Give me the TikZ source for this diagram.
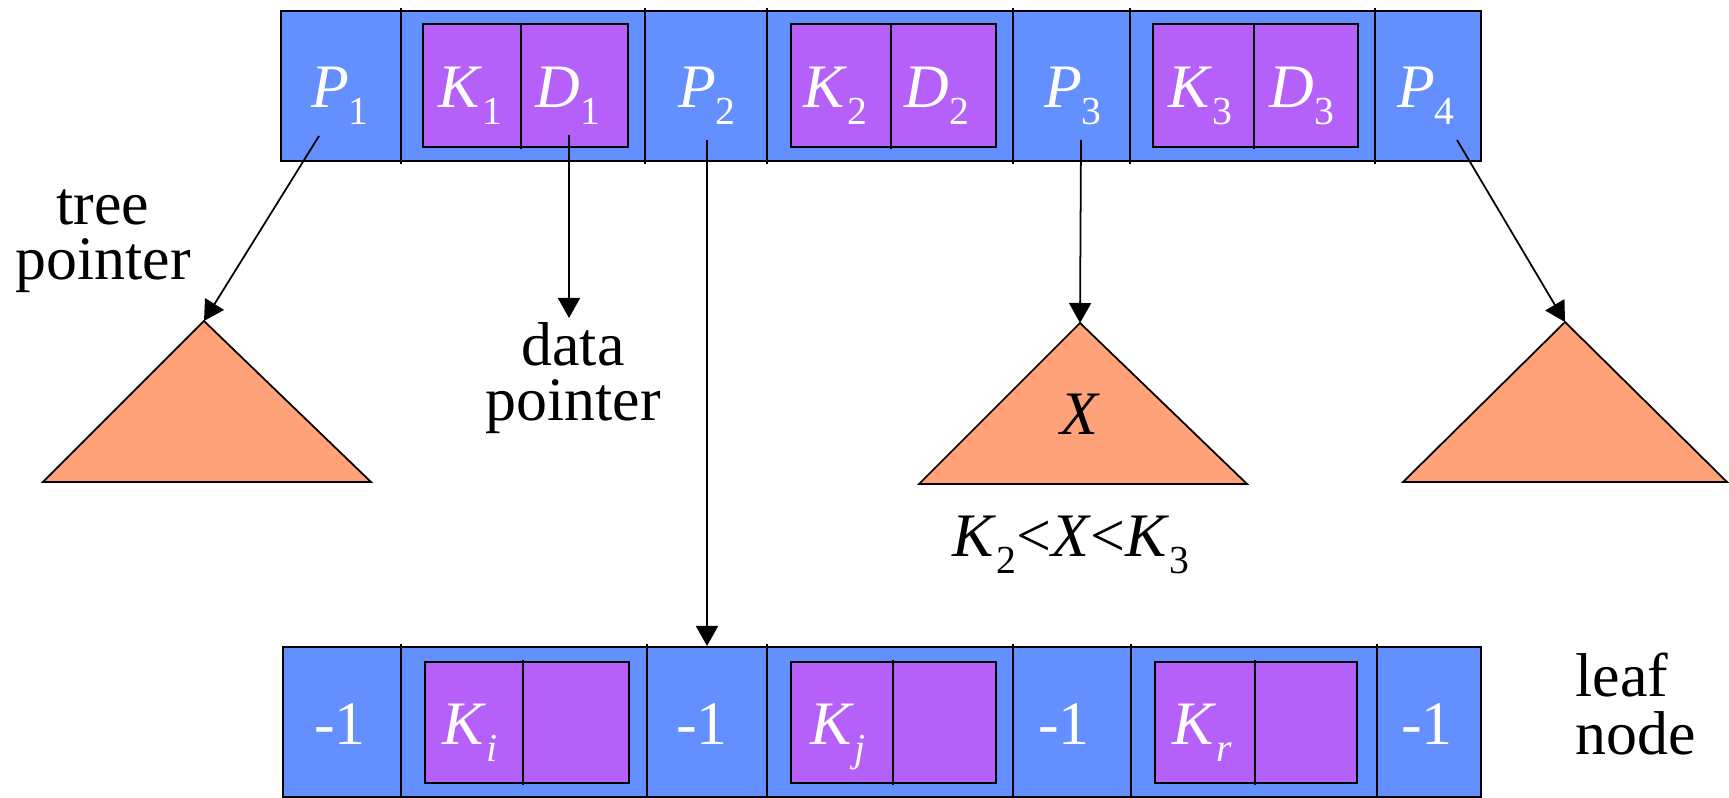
\documentclass[tikz,border=0pt]{standalone}
\usepackage{fontspec}
\setmainfont{Liberation Serif}
\usetikzlibrary{arrows.meta}

\definecolor{cellblue}{RGB}{100,143,255}
\definecolor{keypurple}{RGB}{182,96,250}
\definecolor{treeorange}{RGB}{255,162,122}

% lowered small index, as in P_1
\newcommand{\lowsub}[1]{\raisebox{-0.26em}{\fontsize{11.3}{12}\selectfont #1}}

\tikzset{
  cell/.style={draw, fill=cellblue, line width=0.5pt},
  keybox/.style={draw, fill=keypurple, line width=0.5pt},
  subtree/.style={draw, fill=treeorange, line width=0.5pt},
  lbl/.style={white, anchor=base, inner sep=0pt},
  note/.style={black, inner sep=0pt, font=\fontsize{17.6}{15.7}\selectfont},
  ptr/.style={line width=0.5pt, -{Triangle[length=0.2cm, width=0.22cm]}}
}

\begin{document}
\begin{tikzpicture}[x=1cm, y=-1cm, font=\fontsize{17.6}{21}\selectfont]
    \useasboundingbox (0,0) rectangle (17.29,7.98);

    % Internal node
    \draw[cell] (2.81,0.11) rectangle (14.81,1.61);
    \draw[line width=0.5pt] (4.01,0.08) -- (4.01,1.64);
    \draw[line width=0.5pt] (6.45,0.08) -- (6.45,1.64);
    \draw[line width=0.5pt] (7.67,0.08) -- (7.67,1.64);
    \draw[line width=0.5pt] (10.13,0.08) -- (10.13,1.64);
    \draw[line width=0.5pt] (11.30,0.08) -- (11.30,1.64);
    \draw[line width=0.5pt] (13.75,0.08) -- (13.75,1.64);
    % key/data pairs
    \draw[keybox] (4.23,0.24) rectangle (6.28,1.47);
    \draw[keybox] (7.91,0.24) rectangle (9.96,1.47);
    \draw[keybox] (11.53,0.24) rectangle (13.58,1.47);
    \draw[line width=0.5pt] (5.21,0.24) -- (5.21,1.49);
    \draw[line width=0.5pt] (8.91,0.24) -- (8.91,1.49);
    \draw[line width=0.5pt] (12.54,0.24) -- (12.54,1.49);

    \node[lbl] (p1) at (3.40,1.08) {\textit{P}\lowsub{1}};
    \node[lbl] (k1) at (4.70,1.08) {\textit{K}\lowsub{1}};
    \node[lbl] (d1) at (5.68,1.08) {\textit{D}\lowsub{1}};
    \node[lbl] (p2) at (7.07,1.08) {\textit{P}\lowsub{2}};
    \node[lbl] (k2) at (8.35,1.08) {\textit{K}\lowsub{2}};
    \node[lbl] (d2) at (9.37,1.08) {\textit{D}\lowsub{2}};
    \node[lbl] (p3) at (10.73,1.08) {\textit{P}\lowsub{3}};
    \node[lbl] (k3) at (12.00,1.08) {\textit{K}\lowsub{3}};
    \node[lbl] (d3) at (13.02,1.08) {\textit{D}\lowsub{3}};
    \node[lbl] (p4) at (14.26,1.08) {\textit{P}\lowsub{4}};

    % Leaf node
    \draw[cell] (2.83,6.47) rectangle (14.81,7.97);
    \draw[line width=0.5pt] (4.01,6.44) -- (4.01,7.98);
    \draw[line width=0.5pt] (6.47,6.44) -- (6.47,7.98);
    \draw[line width=0.5pt] (7.67,6.44) -- (7.67,7.98);
    \draw[line width=0.5pt] (10.13,6.44) -- (10.13,7.98);
    \draw[line width=0.5pt] (11.31,6.44) -- (11.31,7.98);
    \draw[line width=0.5pt] (13.77,6.44) -- (13.77,7.98);
    \draw[keybox] (4.25,6.62) rectangle (6.29,7.83);
    \draw[keybox] (7.91,6.62) rectangle (9.96,7.83);
    \draw[keybox] (11.55,6.62) rectangle (13.57,7.83);
    \draw[line width=0.5pt] (5.23,6.60) -- (5.23,7.85);
    \draw[line width=0.5pt] (8.93,6.60) -- (8.93,7.85);
    \draw[line width=0.5pt] (12.55,6.60) -- (12.55,7.85);

    \node[lbl] (m1) at (3.40,7.45) {-1};
    \node[lbl] (ki) at (4.70,7.45) {\textit{K}\lowsub{\textit{i}}};
    \node[lbl] (m2) at (7.02,7.45) {-1};
    \node[lbl] (kj) at (8.38,7.45) {\textit{K}\lowsub{\textit{j}}};
    \node[lbl] (m3) at (10.64,7.45) {-1};
    \node[lbl] (kr) at (12.02,7.45) {\textit{K}\lowsub{\textit{r}}};
    \node[lbl] (m4) at (14.27,7.45) {-1};

    % Subtrees
    \draw[subtree] (2.04,3.21) -- (3.71,4.82) -- (0.43,4.82) -- cycle;
    \draw[subtree] (10.80,3.23) -- (12.47,4.84) -- (9.19,4.84) -- cycle;
    \draw[subtree] (15.65,3.22) -- (17.27,4.82) -- (14.03,4.82) -- cycle;
    \coordinate (t1) at (2.04,3.21);
    \coordinate (t2) at (10.80,3.23);
    \coordinate (t3) at (15.65,3.22);
    \node[black, anchor=base, inner sep=0pt] (x) at (10.80,4.35) {\textit{X}};
    \node[black, anchor=base, inner sep=0pt] (range) at (10.71,5.57)
        {\textit{K}\lowsub{2}<\textit{X}<\textit{K}\lowsub{3}};

    % Pointers
    \coordinate (p1s) at (3.19,1.36);
    \coordinate (d1s) at (5.69,1.35);
    \coordinate (dtip) at (5.69,3.18);
    \coordinate (p2s) at (7.07,1.40);
    \coordinate (leaftop) at (7.07,6.46);
    \coordinate (p3s) at (10.81,1.40);
    \coordinate (p4s) at (14.57,1.40);
    \draw[ptr] (p1s) -- (t1);
    \draw[ptr] (d1s) -- (dtip);
    \draw[ptr] (p2s) -- (leaftop);
    \draw[ptr] (p3s) -- (t2);
    \draw[ptr] (p4s) -- (t3);

    % Notes
    \node[note, align=center] (treeptr) at (1.03,2.41) {tree\\pointer};
    \node[note, align=center] (dataptr) at (5.73,3.78) {data\\pointer};
    \node[note, align=left, anchor=west, font=\fontsize{17.6}{16.5}\selectfont] (leaf) at (15.75,7.04) {leaf\\node};
\end{tikzpicture}
\end{document}
